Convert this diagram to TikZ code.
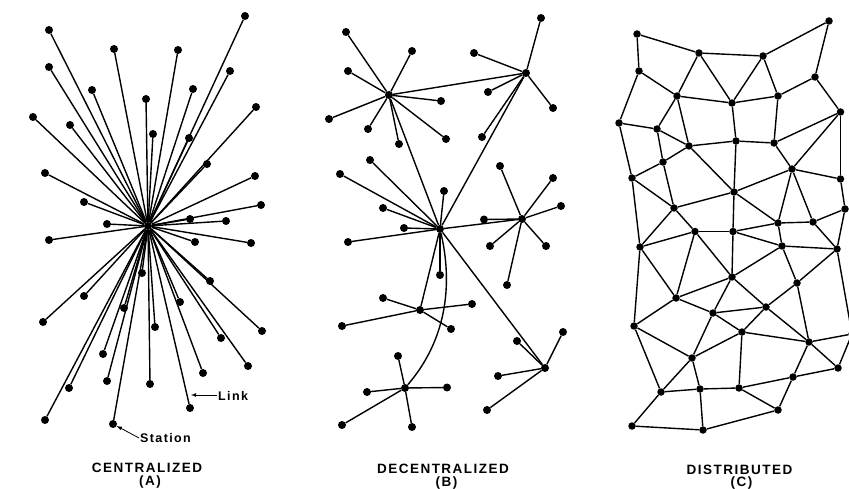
\documentclass[tikz,border=0pt]{standalone}
\usepackage{fontspec}
\setmainfont{Liberation Sans}
\newfontfamily\titlefont[LetterSpace=11]{Liberation Sans}
\newfontfamily\notefont[LetterSpace=11]{Liberation Sans}
\usepackage{tikz}
\usetikzlibrary{arrows}

\begin{document}
\begin{tikzpicture}[x=1pt,y=-1pt,
        station/.style={circle,fill=black,inner sep=0pt,minimum size=8pt},
        link/.style={black,line width=1.4pt},
        caption/.style={font=\titlefont\bfseries\fontsize{13.5}{15}\selectfont,inner sep=0pt,anchor=base},
        note/.style={font=\notefont\bfseries\fontsize{12.5}{14}\selectfont,inner sep=0pt,anchor=base west}]

        \useasboundingbox (0,0) rectangle (849,489);

        % centralized
        \node[station] (hubA) at (148,226) {};
        \foreach \x/\y [count=\i] in {245/16,49/30,114/49,178/50,49/67,230/71,92/90,193/89,146/99,
                256/107,33/117,70/125,153/134,189/138,207/164,45/173,255/176,84/202,261/205,
                190/219,226/221,107/224,49/240,195/242,251/243,210/281,84/296,180/302,124/308,
                142/273,43/322,155/327,262/331,221/338,103/354,248/366,203/373,107/381,150/384,
                69/388,190/408,45/420}
                {\node[station] (ca\i) at (\x,\y) {};
                 \draw[link] (hubA) -- (ca\i);}
        \node[station] (st) at (113,424) {};
        \draw[link] (hubA) -- (st);

        \coordinate (linkpt) at (191,395);
        \node[note] (linklbl) at (218,400) {Link};
        \node[note] (stlbl) at (140,442.5) {Station};
        \draw[-latex, thick] ([xshift=-1pt,yshift=5pt]linklbl.base west) -- (linkpt);
        \draw[-latex, thick] ([xshift=-1pt,yshift=4.5pt]stlbl.base west) -- (st);

        \node[caption] (capA) at (147,472.5) {CENTRALIZED};
        \node[caption] (tagA) at (150,485) {(A)};

        % decentralized
        \node[station] (hub0) at (440,229) {};
        \node[station] (hub1) at (389,95) {};
        \node[station] (hub2) at (526,73) {};
        \node[station] (hub3) at (522,219) {};
        \node[station] (hub4) at (420,310) {};
        \node[station] (hub5) at (405,388) {};
        \node[station] (hub6) at (545,368) {};

        \foreach \p [count=\i] in {(370,160),(340,174),(444,191),(383,208),(404,228),(348,242),(440,275)}
                {\node[station] (p0-\i) at \p {}; \draw[link] (hub0) -- (p0-\i);}
        \foreach \p [count=\i] in {(346,32),(412,51),(348,71),(441,101),(329,119),(368,129),(446,139),(399,144)}
                {\node[station] (p1-\i) at \p {}; \draw[link] (hub1) -- (p1-\i);}
        \foreach \p [count=\i] in {(541,18),(474,53),(488,92),(553,108),(482,137)}
                {\node[station] (p2-\i) at \p {}; \draw[link] (hub2) -- (p2-\i);}
        \foreach \p [count=\i] in {(500,166),(553,178),(561,206),(484,219.5),(490,246),(546,246),(507,285)}
                {\node[station] (p3-\i) at \p {}; \draw[link] (hub3) -- (p3-\i);}
        \foreach \p [count=\i] in {(383,298),(472,304),(342,326),(451,329)}
                {\node[station] (p4-\i) at \p {}; \draw[link] (hub4) -- (p4-\i);}
        \foreach \p [count=\i] in {(398,356),(367,392),(447,387.5),(342,425),(412,427)}
                {\node[station] (p5-\i) at \p {}; \draw[link] (hub5) -- (p5-\i);}
        \foreach \p [count=\i] in {(517,341),(563,332),(498,376),(487,410)}
                {\node[station] (p6-\i) at \p {}; \draw[link] (hub6) -- (p6-\i);}

        \draw[link] (hub1) -- (hub2);
        \draw[link] (hub1) -- (hub0);
        \draw[link] (hub2) -- (hub0);
        \draw[link] (hub0) -- (hub3);
        \draw[link] (hub0) -- (hub4);
        \draw[link] (hub0) -- (hub6);
        \draw[link] (hub0) .. controls (450,272) and (453,332) .. (hub5);

        \node[caption] (capB) at (443,473.3) {DECENTRALIZED};
        \node[caption] (tagB) at (446.5,486) {(B)};

        % distributed
        \foreach \n/\x/\y in {a1/637/34,a2/699/53,a3/763/56,a4/829/21,b1/639/71,b2/815/77,
                c1/677/96,c2/732/103,c3/778/96,c4/840.5/112,d1/619/123,d2/657/129,d3/689/146,
                d4/736/141,d5/774/143,e1/663/162,e2/792/169,f1/632/178,f2/840.5/179,g1/734/192,
                g2/674/208,g3/845/209,h1/778/223,h2/813/222,i1/695/231.5,i2/733/231.5,j1/640/247,
                j2/782/246,j3/837/249,k1/732/277,k2/797/283,l1/676/298,m1/766/307,m2/713/313,
                x1/852/334,n1/634/326,n2/742/332,n3/809/342,o1/692/358,o2/838/368,p1/793/377,
                q1/661/392,q2/700/389,q3/739/388,r1/778/410,s1/632/426,s2/703/430}
                {\node[station,minimum size=7.5pt] (\n) at (\x,\y) {};}

        \foreach \u/\v in {a1/a2,a2/a3,a3/a4,a1/b1,a4/b2,a2/c1,a2/c2,a3/c2,a3/c3,b1/c1,b1/d1,
                b2/c3,b2/c4,c1/c2,c2/c3,c1/d2,c1/d3,c2/d4,c3/d5,d1/d2,d2/d3,d2/e1,d3/d4,d4/d5,
                d5/c4,c4/e2,d5/e2,d1/f1,e1/f1,d3/e1,d3/g1,d4/g1,c4/f2,e2/f2,e2/g1,e2/h1,e2/h2,
                f2/g3,f1/g2,e1/g2,g2/g1,g1/h1,h1/h2,h2/g3,h2/j3,g3/j3,h1/j2,i2/h1,j2/j3,g2/i1,
                g2/j1,f1/j1,i1/i2,j1/i1,i2/g1,i2/j2,i2/k1,i1/k1,i1/l1,j1/l1,j2/k1,j2/k2,j3/k2,
                k1/l1,k1/m2,k1/m1,k2/m1,k2/n3,l1/m2,m2/m1,j1/n1,l1/n1,m2/n2,m1/n2,m1/n3,m2/o1,
                n1/o1,n1/q1,n2/o1,n2/n3,n2/q3,n3/x1,j3/x1,x1/o2,n3/o2,n3/p1,o2/p1,o1/q1,o1/q2,
                q1/q2,q2/q3,q3/p1,q3/r1,p1/r1,q1/s1,q2/s2,s1/s2,s2/r1}
                {\draw[link] (\u) -- (\v);}

        \node[caption] (capC) at (739.5,474) {DISTRIBUTED};
        \node[caption] (tagC) at (741.5,486) {(C)};

\end{tikzpicture}
\end{document}
